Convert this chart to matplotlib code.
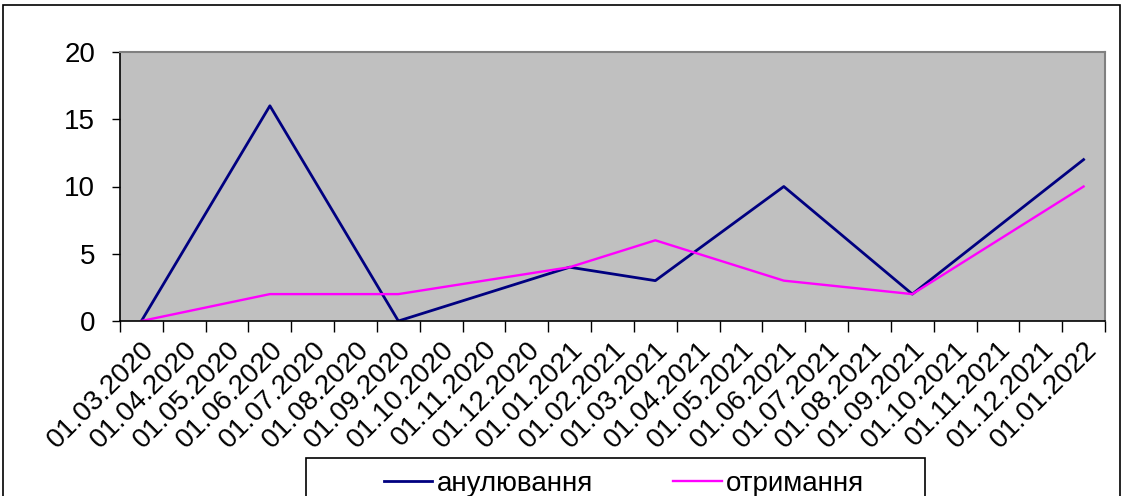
import matplotlib
matplotlib.use("Agg")
import matplotlib.pyplot as plt
import numpy as np
from matplotlib.patches import Rectangle

plt.rcParams["font.family"] = ["Liberation Sans", "DejaVu Sans"]

# monthly category axis
months = [
    "01.03.2020", "01.04.2020", "01.05.2020", "01.06.2020", "01.07.2020",
    "01.08.2020", "01.09.2020", "01.10.2020", "01.11.2020", "01.12.2020",
    "01.01.2021", "01.02.2021", "01.03.2021", "01.04.2021", "01.05.2021",
    "01.06.2021", "01.07.2021", "01.08.2021", "01.09.2021", "01.10.2021",
    "01.11.2021", "01.12.2021", "01.01.2022",
]

# observations exist only for some months
obs_dates = ["01.03.2020", "01.06.2020", "01.09.2020", "01.01.2021",
             "01.03.2021", "01.06.2021", "01.09.2021", "01.01.2022"]
cancelled = [0, 16, 0, 4, 3, 10, 2, 12]
received = [0, 2, 2, 4, 6, 3, 2, 10]

W, H = 1125, 496
fig = plt.figure(figsize=(W / 100, H / 100), dpi=100)
ax = fig.add_axes([120 / W, 1 - 321 / H, (1105 - 120) / W, (321 - 52) / H])
ax.set_facecolor("#C0C0C0")

xpos = [months.index(d) for d in obs_dates]
ax.plot(xpos, cancelled, color="#000080", lw=2.0, label="анулювання")
ax.plot(xpos, received, color="#FF00FF", lw=1.7, label="отримання")

ax.set_xlim(-0.5, len(months) - 0.5)
ax.set_ylim(0, 20)
ax.set_yticks([0, 5, 10, 15, 20])
ax.tick_params(axis="y", labelsize=20, length=6, width=1, pad=12)

# labels at category centres, tick marks on boundaries
ax.set_xticks(np.arange(len(months)))
ax.set_xticklabels(months, rotation=45, ha="right", rotation_mode="anchor", fontsize=20)
ax.tick_params(axis="x", which="major", length=0, pad=11)
ax.set_xticks(np.arange(len(months) + 1) - 0.5, minor=True)
ax.tick_params(axis="x", which="minor", length=8, width=1)

for side in ("left", "bottom"):
    ax.spines[side].set_color("black")
    ax.spines[side].set_linewidth(1.2)
for side in ("top", "right"):
    ax.spines[side].set_color("#808080")
    ax.spines[side].set_linewidth(1.5)

# outer chart border
fig.patches.append(Rectangle((3 / W, -0.1), (1120 - 3) / W, 1.1 - 5 / H,
                             transform=fig.transFigure, fill=False,
                             edgecolor="black", lw=1.2))

# legend box running off the bottom edge
fig.patches.append(Rectangle((306 / W, -0.1), (925 - 306) / W, 0.1 + (H - 458) / H,
                             transform=fig.transFigure, fill=True, facecolor="white",
                             edgecolor="black", lw=1.2))
fig.legend(loc="center", bbox_to_anchor=(624 / W, 1 - 484 / H), ncol=2,
           frameon=False, fontsize=20, handlelength=1.75, handletextpad=0.15,
           columnspacing=2.9)

fig.savefig("out.png", dpi=100)
